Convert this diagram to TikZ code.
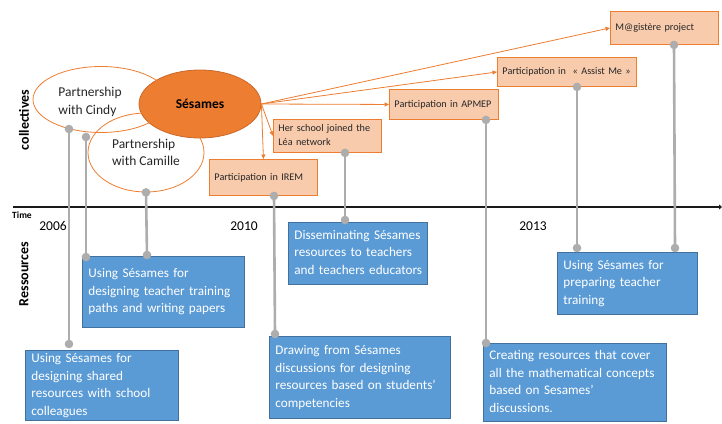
\documentclass[tikz,border=0pt]{standalone}
\usepackage{fontspec}
\setmainfont{Carlito}
\usetikzlibrary{arrows.meta,shapes.geometric,calc}
\definecolor{orangeA}{HTML}{ED7D31}
\definecolor{orangeL}{HTML}{F8CBAD}
\definecolor{blueF}{HTML}{5B9BD5}
\definecolor{blueD}{HTML}{41719C}
\definecolor{grayC}{HTML}{ADADAD}
\definecolor{txt}{HTML}{262626}
\newcommand\gconn[2]{\draw[conn] (#1) -- (#2); \fill[grayC] (#1) circle[radius=4.3pt]; \fill[grayC] (#2) circle[radius=4.3pt];}
\newcommand\ltab[1]{\begin{tabular}{@{}l@{}}#1\end{tabular}}
\begin{document}
\begin{tikzpicture}[x=1pt,y=-1pt,
  bluebox/.style={draw=blueD, fill=blueF, line width=0.8pt, text=white, align=left, anchor=north west, font=\fontsize{13.2}{17.5}\selectfont, inner xsep=6pt, inner ysep=0pt},
  orbox/.style={draw=orangeA, fill=orangeL, line width=0.9pt, align=left, anchor=north west, font=\fontsize{10.2}{13.8}\selectfont, inner xsep=5pt, inner ysep=0pt, text=txt},
  ell/.style={ellipse, draw=orangeA, line width=0.8pt, inner sep=0pt},
  etext/.style={align=left, text=txt, font=\fontsize{13.5}{17.5}\selectfont},
  conn/.style={draw=grayC, line width=2.6pt},
  sarrow/.style={draw=orangeA, line width=0.8pt, -{Triangle[length=4.5pt,width=4pt]}},
  vlabel/.style={rotate=90, text=black, font=\bfseries\fontsize{14}{16}\selectfont},
  year/.style={text=black, font=\fontsize{13.5}{16}\selectfont},
]
\useasboundingbox (0,0) rectangle (722,423);

% collectives (ellipses)
\node[ell, fill=orangeA, draw=orangeA!85!black, minimum width=122pt, minimum height=68pt, text=black, font=\bfseries\fontsize{13.5}{16}\selectfont] (ses) at (200,104) {Sésames};
\node[ell, minimum width=136pt, minimum height=66pt] (cindy) at (101,99.5) {};
\node[etext] (cindyt) at (90,102) {Partnership\\with Cindy};
\node[ell, minimum width=116pt, minimum height=79pt, etext] (cam) at (146,152.5) {Partnership\\with Camille};

% side labels
\node[vlabel] (lcol) at (24,120) {collectives};
\node[vlabel] (lres) at (24,274) {Ressources};
\node[text=black, font=\bfseries\fontsize{9.5}{11}\selectfont] (ltime) at (22,215.5) {Time};

% timeline
\coordinate (tl0) at (13,207);
\coordinate (tl1) at (722,207);
\draw[line width=2pt, black!90, -{Triangle[length=3pt,width=5pt]}] (tl0) -- (tl1);
\node[year] (y2006) at (53,226) {2006};
\node[year] (y2010) at (244,226) {2010};
\node[year] (y2013) at (533,226) {2013};

% orange boxes
\node[orbox, minimum width=108pt, minimum height=36pt, text width=98pt] (o1) at (209,159) {\ltab{Participation in IREM}};
\node[orbox, minimum width=108pt, minimum height=33pt, text width=98pt] (o2) at (273,119) {\ltab{Her school joined the\\Léa network}};
\node[orbox, minimum width=109pt, minimum height=30pt, text width=99pt] (o3) at (389,89) {\ltab{Participation in APMEP}};
\node[orbox, minimum width=139pt, minimum height=29pt, text width=129pt] (o4) at (497,57) {\ltab{Participation in\ \ «~Assist Me~»}};
\node[orbox, minimum width=108pt, minimum height=33pt, text width=98pt] (o5) at (610,11) {\ltab{M@gistère project}};

% arrows from Sesames
\draw[sarrow] (ses.east) -- (o5.west);
\draw[sarrow] (ses.east) -- (o4.west);
\draw[sarrow] (ses.east) -- (o3.west);
\draw[sarrow] (ses.east) -- (o2.west);
\draw[sarrow] (ses.east) -- (o1.north);

% blue boxes
\node[bluebox, minimum width=153pt, minimum height=70pt, text width=141pt] (b1) at (25,350) {\ltab{Using Sésames for\\designing shared\\resources with school\\colleagues}};
\node[bluebox, minimum width=162pt, minimum height=71pt, text width=150pt] (b2) at (82,256) {\ltab{Using Sésames for\\designing teacher training\\paths and writing papers}};
\node[bluebox, minimum width=139pt, minimum height=62pt, text width=127pt] (b3) at (288,222) {\ltab{Disseminating Sésames\\resources to teachers\\and teachers educators}};
\node[bluebox, minimum width=181pt, minimum height=82pt, text width=169pt] (b4) at (269,336) {\ltab{Drawing from Sésames\\discussions for designing\\resources based on students’\\competencies}};
\node[bluebox, minimum width=183pt, minimum height=78pt, text width=171pt] (b5) at (483,343) {\ltab{Creating resources that cover\\all the mathematical concepts\\based on Sesames’\\discussions.}};
\node[bluebox, minimum width=140pt, minimum height=62pt, text width=128pt] (b6) at (557,252) {\ltab{Using Sésames for\\preparing teacher\\training}};

% connector end points
\coordinate (c1s) at (69,129);
\coordinate (c1e) at (69,344);
\coordinate (c2s) at (86,137);
\coordinate (c2e) at (86,257);
\coordinate (c3e) at (147,255);
\coordinate (c4s) at ($(o1.south west)+(65,0)$);
\coordinate (c4e) at (275,334);
\coordinate (c5s) at ($(o2.south west)+(72,0)$);
\coordinate (c5e) at (345,220);
\coordinate (c6s) at ($(o3.south west)+(97,0)$);
\coordinate (c6e) at (486,343);
\coordinate (c7s) at ($(o4.south west)+(80,0)$);
\coordinate (c7e) at (577,248);
\coordinate (c8s) at ($(o5.south west)+(64,0)$);
\coordinate (c8e) at (675,248);

\gconn{c1s}{c1e}
\gconn{c2s}{c2e}
\gconn{cam.south}{c3e}
\gconn{c4s}{c4e}
\gconn{c5s}{c5e}
\gconn{c6s}{c6e}
\gconn{c7s}{c7e}
\gconn{c8s}{c8e}
\end{tikzpicture}
\end{document}
